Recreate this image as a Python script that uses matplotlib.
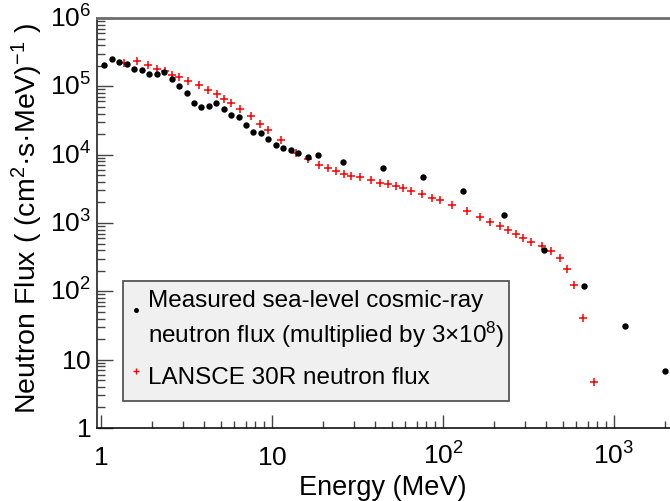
import numpy as np
import matplotlib
matplotlib.use("Agg")
import matplotlib.pyplot as plt
from matplotlib.transforms import blended_transform_factory, ScaledTranslation
from matplotlib.patches import Rectangle
from matplotlib.lines import Line2D

plt.rcParams['font.family'] = ['Liberation Sans', 'DejaVu Sans']
plt.rcParams['mathtext.fontset'] = 'custom'
plt.rcParams['mathtext.rm'] = 'Liberation Sans'
plt.rcParams['mathtext.it'] = 'Liberation Sans:italic'
plt.rcParams['mathtext.bf'] = 'Liberation Sans:bold'

# ---- data ----
measured_E = [1.045, 1.16, 1.28, 1.41, 1.57, 1.73, 1.92, 2.12, 2.35, 2.59, 2.86, 3.17,
              3.50, 3.86, 4.26, 4.71, 5.22, 5.76, 6.38, 7.05, 7.78, 8.59, 9.52, 10.5,
              11.6, 12.9, 14.2, 16.2, 18.6, 25.9, 44.4, 76.1, 131.5, 227, 391, 670,
              1159, 1995]
measured_F = [2.05e5, 2.49e5, 2.30e5, 2.12e5, 1.81e5, 1.73e5, 1.53e5, 1.53e5, 1.64e5,
              1.29e5, 1.01e5, 8.07e4, 5.65e4, 4.99e4, 5.21e4, 5.77e4, 4.67e4, 3.81e4,
              3.52e4, 2.69e4, 2.17e4, 2.05e4, 1.68e4, 1.39e4, 1.24e4, 1.16e4, 1.05e4,
              9.15e3, 9.8e3, 7.8e3, 6.3e3, 4.67e3, 2.94e3, 1.31e3, 407, 121, 31.4, 6.9]

lansce_E = [1.369, 1.624, 1.876, 2.126, 2.358, 2.612, 2.871, 3.240, 3.742, 4.241, 4.750,
            5.262, 5.781, 6.527, 7.506, 8.509, 9.514, 11.26, 13.87, 16.31, 18.83, 21.35,
            23.77, 26.47, 28.86, 32.7, 37.77, 42.8, 47.7, 52.9, 58.1, 65.3, 75.7, 85.9,
            96.0, 113.4, 138.7, 163.9, 189.1, 214.6, 239.9, 266.2, 292.5, 328.5, 380.8,
            429.9, 481.5, 531, 583.7, 658.5, 760.9]
lansce_F = [2.17e5, 2.37e5, 2.05e5, 1.81e5, 1.68e5, 1.48e5, 1.37e5, 1.21e5, 1.04e5,
            8.85e4, 7.73e4, 6.6e4, 5.65e4, 4.61e4, 3.62e4, 2.84e4, 2.30e4, 1.63e4,
            1.07e4, 8.56e3, 7.13e3, 6.32e3, 5.77e3, 5.27e3, 4.92e3, 4.67e3, 4.22e3,
            3.89e3, 3.68e3, 3.44e3, 3.22e3, 2.94e3, 2.63e3, 2.35e3, 2.15e3, 1.85e3,
            1.50e3, 1.24e3, 1.045e3, 895, 782, 690, 610, 533, 461, 385, 305, 212, 124,
            40.3, 4.76]

x_ticks = [1, 10, 100, 1000]
x_tick_labels = ['$1$', '$10$', '$10^{2}$', '$10^{3}$']
y_ticks = [1, 10, 100, 1e3, 1e4, 1e5, 1e6]
y_tick_labels = ['$1$', '$10$', '$10^{2}$', '$10^{3}$', '$10^{4}$', '$10^{5}$', '$10^{6}$']

legend_labels = ['Measured sea-level cosmic-ray',
                 'neutron flux (multiplied by 3$\\times$10$^{8}$)',
                 'LANSCE 30R neutron flux']

# ---- figure ----
W, H = 670, 501
fig = plt.figure(figsize=(W / 100, H / 100), dpi=100)
ax_l, ax_r, ax_t, ax_b = 97, 670, 18, 428
ax = fig.add_axes([ax_l / W, (H - ax_b) / H, (ax_r - ax_l) / W, (ax_b - ax_t) / H])
ax.set_xscale('log')
ax.set_yscale('log')
ax.set_xlim(10 ** (-4 / 171), 10 ** ((670 - 101) / 171))
ax.set_ylim(1, 1e6)

ax.plot(lansce_E, lansce_F, linestyle='none', marker='+', color='#ff0000',
        markersize=5.5, markeredgewidth=1.1, clip_on=False, zorder=3)
ax.plot(measured_E, measured_F, linestyle='none', marker='o', color='black',
        markersize=4.6, markeredgewidth=0, clip_on=False, zorder=4)

# spines
ax.spines['right'].set_visible(False)
ax.spines['top'].set_color('#6e6e6e')
ax.spines['top'].set_linewidth(2)
ax.spines['left'].set_color('#222222')
ax.spines['left'].set_linewidth(1.2)
ax.spines['bottom'].set_color('#111111')
ax.spines['bottom'].set_linewidth(1.2)

# ticks
ax.set_xticks(x_ticks)
ax.set_yticks(y_ticks)
ax.xaxis.set_minor_locator(matplotlib.ticker.LogLocator(base=10, subs=np.arange(2, 10), numticks=20))
ax.yaxis.set_minor_locator(matplotlib.ticker.LogLocator(base=10, subs=np.arange(2, 10), numticks=20))
ax.set_xticklabels([])
ax.set_yticklabels([])
ax.xaxis.set_minor_formatter(matplotlib.ticker.NullFormatter())
ax.yaxis.set_minor_formatter(matplotlib.ticker.NullFormatter())
ax.tick_params(axis='both', which='both', direction='in', top=False, right=False,
               color='#444444', width=1)
ax.tick_params(axis='x', which='major', length=9.5)
ax.tick_params(axis='x', which='minor', length=4.8)
ax.tick_params(axis='y', which='major', length=11.5)
ax.tick_params(axis='y', which='minor', length=5.5)

FS = 19
cap = 0.716 * FS / 72  # inches
ytr = blended_transform_factory(ax.transAxes, ax.transData) + \
    ScaledTranslation(-0.06, -cap / 2, fig.dpi_scale_trans)
for v, lab in zip(y_ticks, y_tick_labels):
    ax.text(0, v, lab, transform=ytr, ha='right', va='baseline', fontsize=FS)
xtr = blended_transform_factory(ax.transData, ax.transAxes) + \
    ScaledTranslation(0, -0.37, fig.dpi_scale_trans)
for v, lab in zip(x_ticks, x_tick_labels):
    ax.text(v, 0, lab, transform=xtr, ha='center', va='baseline', fontsize=FS)

# axis titles
fig.text(383 / W, 1 - 495 / H, 'Energy (MeV)', ha='center', va='baseline', fontsize=19.5)
fig.text(27 / W, 1 - 23 / H, 'Neutron Flux ( (cm$^{2}$·s·MeV)$^{-1}$ )', rotation=90,
         ha='center', va='top', fontsize=20.5)

# legend (manual, in figure pixels)
lx0, ly0, lx1, ly1 = 123.3, 280.7, 509, 400.7
fig.add_artist(Rectangle((lx0 / W, 1 - ly1 / H), (lx1 - lx0) / W, (ly1 - ly0) / H,
                         transform=fig.transFigure, facecolor='#f0f0f0',
                         edgecolor='#555555', linewidth=1.3, zorder=10))
fig.add_artist(Line2D([136 / W], [1 - 310 / H], transform=fig.transFigure, marker='o',
                      color='black', markersize=3.6, markeredgewidth=0, linestyle='none', zorder=11))
fig.add_artist(Line2D([136 / W], [1 - 371 / H], transform=fig.transFigure, marker='+',
                      color='#ff0000', markersize=4, markeredgewidth=1, linestyle='none', zorder=11))
LFS = 17.5
for txt, base in zip(legend_labels, [307, 343, 384]):
    fig.text(147.5 / W, 1 - base / H, txt, ha='left', va='baseline', fontsize=LFS, zorder=12)

fig.savefig('out.png', dpi=100)
